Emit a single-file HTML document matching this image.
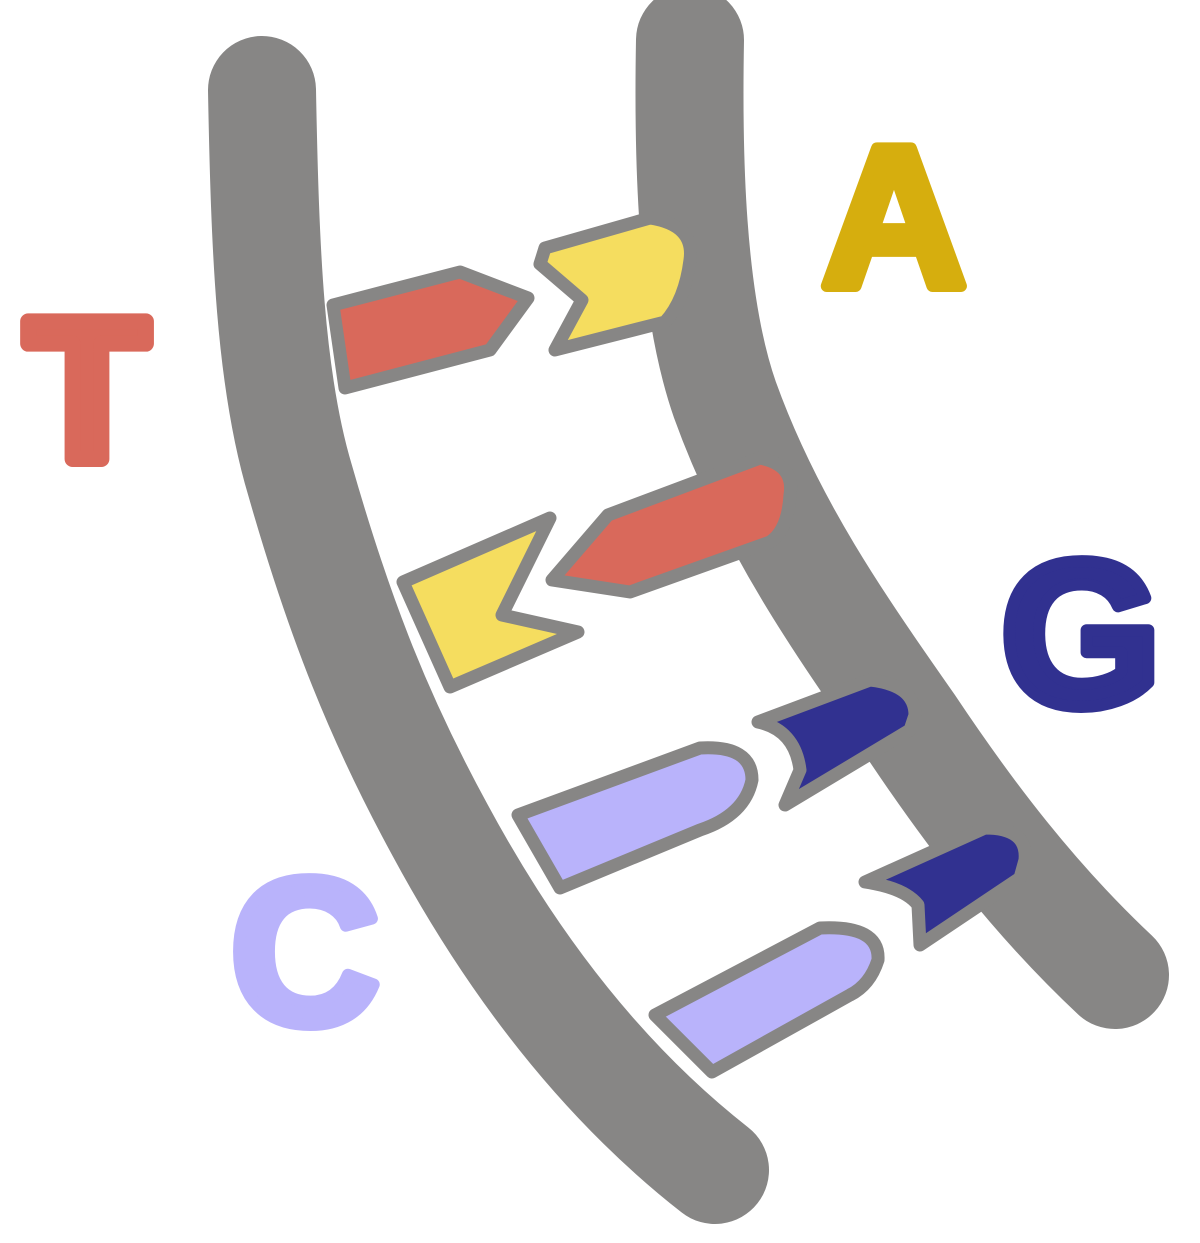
<!DOCTYPE html>
<html><head><meta charset="utf-8"><style>
html,body{margin:0;padding:0;background:#fff;}
svg{display:block;}
text{font-family:"Liberation Sans",sans-serif;font-weight:bold;stroke-linejoin:round;}
</style></head><body>
<svg width="1200" height="1243" viewBox="0 0 1200 1243">
<g fill="none" stroke="#878685" stroke-width="108" stroke-linecap="round" stroke-linejoin="round">
<path d="M262,90 C265,250 270,380 300,480 C340,620 380,720 440,830 C510,960 600,1080 715,1170"/>
<path d="M690,40 C688,150 690,300 725,400 C770,525 840,625 910,725 C970,815 1035,900 1115,975"/>
</g>
<g stroke="#878685" stroke-width="13" stroke-linejoin="round">
<path fill="#d9695b" d="M333,305 L460,272 L528,298 L490,350 L345,388 Z"/>
<path fill="#f5dd5f" d="M545,248 L650,218 Q695,225 690,260 Q685,300 665,322 L555,350 L582,300 L540,264 Z"/>
<path fill="#f5dd5f" d="M403,582 L550,518 L502,615 L578,632 L450,687 Z"/>
<path fill="#d9695b" d="M552,580 L608,515 L760,458 Q795,465 790,495 Q788,530 770,542 L630,592 Z"/>
<path fill="#b9b3fb" d="M518,815 L700,748 Q752,745 752,780 Q745,815 700,830 L560,888 Z"/>
<path fill="#313190" d="M758,722 L870,680 Q915,685 915,715 L910,730 L785,805 L800,770 Q795,730 758,722 Z"/>
<path fill="#b9b3fb" d="M655,1015 L820,928 Q880,925 878,960 Q870,985 850,995 L712,1072 Z"/>
<path fill="#313190" d="M865,882 L985,828 Q1028,828 1025,860 L1020,878 L920,945 L918,905 Q905,888 865,882 Z"/>
</g>
<text x="87" y="459" font-size="200" fill="#d9695b" stroke="#d9695b" stroke-width="16" text-anchor="middle">T</text>
<text x="894" y="286" font-size="200" fill="#d6ae0e" stroke="#d6ae0e" stroke-width="12" text-anchor="middle">A</text>
<text x="1081" y="705" font-size="206" fill="#313190" stroke="#313190" stroke-width="12" text-anchor="middle">G</text>
<text x="305" y="1023" font-size="206" fill="#b9b3fb" stroke="#b9b3fb" stroke-width="12" text-anchor="middle">C</text>
</svg>
</body></html>
